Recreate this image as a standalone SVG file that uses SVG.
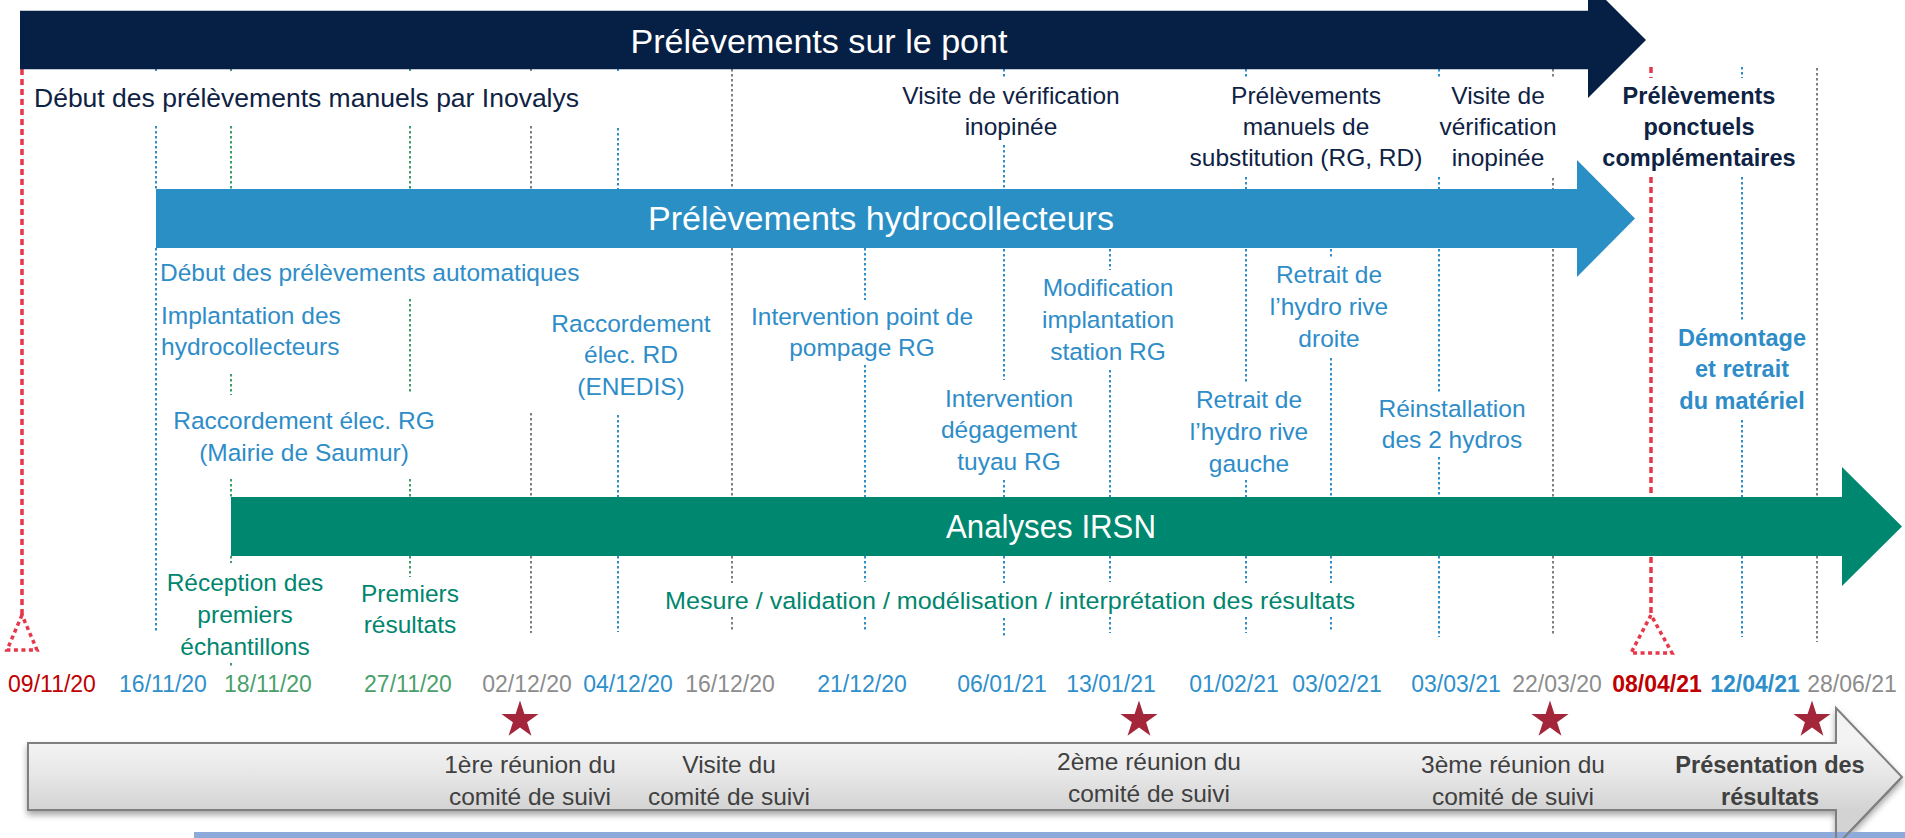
<svg xmlns="http://www.w3.org/2000/svg" xmlns:xlink="http://www.w3.org/1999/xlink" width="1905" height="838" viewBox="0 0 1905 838">
<style>
text{font-family:"Liberation Sans",Arial,sans-serif;}
.lbl{font-size:24.5px}
.big{font-size:34px;fill:#ffffff;text-anchor:middle}
.date{font-size:23px;text-anchor:middle}
.mid{text-anchor:middle}
.b{font-weight:bold}
.navy{fill:#0E2244}
.blue{fill:#2E8DC8}
.green{fill:#00866E}
.dg{fill:#404040}
.cr{fill:#C00000}
.cb{fill:#2E8FCB}
.cg{fill:#4A9F6A}
.cgr{fill:#8C8C8C}
.dl{fill:none;stroke-width:2;stroke-dasharray:2.5 2.5}
.lb{stroke:#2E8FCB}
.lg{stroke:#3AA066}
.lgr{stroke:#7F7F7F}
.red{fill:none;stroke:#E8374A;stroke-width:3.5;stroke-dasharray:6 4}
.redt{fill:none;stroke:#E8374A;stroke-width:3.5;stroke-dasharray:4 3.5}
.star{fill:#A3263A}
</style>
<defs>
<linearGradient id="gg" x1="0" y1="743" x2="0" y2="810" gradientUnits="userSpaceOnUse">
<stop offset="0" stop-color="#F3F3F3"/>
<stop offset="0.5" stop-color="#E6E6E6"/>
<stop offset="1" stop-color="#D3D3D3"/>
</linearGradient>
<filter id="sh" x="-5%" y="-20%" width="110%" height="150%">
<feDropShadow dx="0" dy="4" stdDeviation="3" flood-color="#000000" flood-opacity="0.35"/>
</filter>
<path id="star" d="M0,-19.5 L4.38,-6.03 L18.55,-6.03 L7.09,2.3 L11.46,15.78 L0,7.45 L-11.46,15.78 L-7.09,2.3 L-18.55,-6.03 L-4.38,-6.03Z"/>
</defs>
<rect width="1905" height="838" fill="#ffffff"/>

<g id="connectors">
<path class="red" d="M22,69V615"/>
<path class="redt" d="M22,615L7,650H37Z"/>
<path class="dl lb" d="M156,69V71M156,126V189M156,248V632"/>
<path class="dl lg" d="M231,69V71M231,126V189M231,374V395M231,479V497M231,556V563M231,663V667"/>
<path class="dl lg" d="M410,69V71M410,126V189M410,299V393M410,479V497M410,556V577"/>
<path class="dl lgr" d="M531,69V71M531,126V189M531,413V497M531,556V633"/>
<path class="dl lb" d="M618,69V71M618,128V189M618,415V497M618,556V632"/>
<path class="dl lgr" d="M732,69V189M732,248V497M732,556V583M732,617V632"/>
<path class="dl lb" d="M865,248V300M865,365V497M865,556V582M865,617V632"/>
<path class="dl lb" d="M1004,69V78M1004,145V189M1004,249V380M1004,480V497M1004,556V583M1004,618V637"/>
<path class="dl lb" d="M1110,249V270M1110,370V497M1110,556V582M1110,617V633"/>
<path class="dl lb" d="M1246,69V77M1246,177V189M1246,249V382M1246,480V497M1246,556V583M1246,617V633"/>
<path class="dl lb" d="M1331,249V258M1331,358V497M1331,556V583M1331,617V632"/>
<path class="dl lb" d="M1439,69V78M1439,177V189M1439,249V392M1439,457V497M1439,556V637"/>
<path class="dl lgr" d="M1553,69V78M1553,178V189M1553,249V497M1553,556V635"/>
<path class="red" d="M1651,67V78M1651,177V615"/>
<path class="redt" d="M1651,615L1631,653H1672Z"/>
<path class="dl lb" d="M1742,67V78M1742,177V320M1742,420V497M1742,556V637"/>
<path class="dl lgr" d="M1817,68V497M1817,556V642"/>
</g>

<g id="band-pont">
<path d="M20,10.7H1588V-18L1646,40L1588,98V69.3H20Z" fill="#061F44"/>
<text class="big" x="819" y="53" textLength="377" lengthAdjust="spacingAndGlyphs">Prélèvements sur le pont</text>
</g>

<g id="band-hydro">
<path d="M156,189H1577V160L1635,218.5L1577,277V248H156Z" fill="#2A8FC4"/>
<text class="big" x="881" y="230" textLength="466" lengthAdjust="spacingAndGlyphs">Prélèvements hydrocollecteurs</text>
</g>

<g id="band-irsn">
<path d="M231,497H1842V467L1902,526.5L1842,586V556H231Z" fill="#00876F"/>
<text class="big" x="1051" y="538" textLength="210" lengthAdjust="spacingAndGlyphs">Analyses IRSN</text>
</g>

<g id="band-comite">
<path d="M28,743H1836V708L1902,777L1836,846V810H28Z" fill="url(#gg)" stroke="#7F7F7F" stroke-width="2" filter="url(#sh)"/>
</g>
<rect id="bottom-bar" x="194" y="832" width="1711" height="6" fill="#8EAADB"/>
<path d="M1836,810V846L1902,777" fill="none" stroke="#7F7F7F" stroke-width="2"/>

<g id="label-inovalys"><text class="navy" x="34" y="107" style="font-size:26.5px">Début des prélèvements manuels par Inovalys</text></g>
<g id="label-visite1"><text class="navy lbl mid"><tspan x="1011" y="104">Visite de vérification</tspan><tspan x="1011" y="135">inopinée</tspan></text></g>
<g id="label-substitution"><text class="navy lbl mid"><tspan x="1306" y="104">Prélèvements</tspan><tspan x="1306" y="135">manuels de</tspan><tspan x="1306" y="166">substitution (RG, RD)</tspan></text></g>
<g id="label-visite2"><text class="navy lbl mid"><tspan x="1498" y="104">Visite de</tspan><tspan x="1498" y="135">vérification</tspan><tspan x="1498" y="166">inopinée</tspan></text></g>
<g id="label-ponctuels"><text class="navy lbl mid b" style="font-size:23.5px"><tspan x="1699" y="104">Prélèvements</tspan><tspan x="1699" y="135">ponctuels</tspan><tspan x="1699" y="166">complémentaires</tspan></text></g>

<g id="label-auto"><text class="blue lbl" x="160" y="281">Début des prélèvements automatiques</text></g>
<g id="label-implantation"><text class="blue lbl"><tspan x="161" y="324">Implantation des</tspan><tspan x="161" y="355">hydrocollecteurs</tspan></text></g>
<g id="label-raccRG"><text class="blue lbl mid"><tspan x="304" y="429">Raccordement élec. RG</tspan><tspan x="304" y="461">(Mairie de Saumur)</tspan></text></g>
<g id="label-raccRD"><text class="blue lbl mid"><tspan x="631" y="332">Raccordement</tspan><tspan x="631" y="363">élec. RD</tspan><tspan x="631" y="395">(ENEDIS)</tspan></text></g>
<g id="label-pompage"><text class="blue lbl mid"><tspan x="862" y="325">Intervention point de</tspan><tspan x="862" y="356">pompage RG</tspan></text></g>
<g id="label-tuyau"><text class="blue lbl mid"><tspan x="1009" y="407">Intervention</tspan><tspan x="1009" y="438">dégagement</tspan><tspan x="1009" y="470">tuyau RG</tspan></text></g>
<g id="label-modif"><text class="blue lbl mid"><tspan x="1108" y="296">Modification</tspan><tspan x="1108" y="328">implantation</tspan><tspan x="1108" y="360">station RG</tspan></text></g>
<g id="label-retraitRD"><text class="blue lbl mid"><tspan x="1329" y="283">Retrait de</tspan><tspan x="1329" y="315">l’hydro rive</tspan><tspan x="1329" y="347">droite</tspan></text></g>
<g id="label-retraitRG"><text class="blue lbl mid"><tspan x="1249" y="408">Retrait de</tspan><tspan x="1249" y="440">l’hydro rive</tspan><tspan x="1249" y="472">gauche</tspan></text></g>
<g id="label-reinstall"><text class="blue lbl mid"><tspan x="1452" y="417">Réinstallation</tspan><tspan x="1452" y="448">des 2 hydros</tspan></text></g>
<g id="label-demontage"><text class="blue lbl mid b" style="font-size:23.5px"><tspan x="1742" y="346">Démontage</tspan><tspan x="1742" y="377">et retrait</tspan><tspan x="1742" y="409">du matériel</tspan></text></g>

<g id="label-reception"><text class="green lbl mid"><tspan x="245" y="591">Réception des</tspan><tspan x="245" y="623">premiers</tspan><tspan x="245" y="655">échantillons</tspan></text></g>
<g id="label-premiers"><text class="green lbl mid"><tspan x="410" y="602">Premiers</tspan><tspan x="410" y="633">résultats</tspan></text></g>
<g id="label-mesure"><text class="green lbl mid" x="1010" y="609" textLength="690" lengthAdjust="spacingAndGlyphs">Mesure / validation / modélisation / interprétation des résultats</text></g>

<g id="dates">
<text class="date cr" x="52" y="692">09/11/20</text>
<text class="date cb" x="163" y="692">16/11/20</text>
<text class="date cg" x="268" y="692">18/11/20</text>
<text class="date cg" x="408" y="692">27/11/20</text>
<text class="date cgr" x="527" y="692">02/12/20</text>
<text class="date cb" x="628" y="692">04/12/20</text>
<text class="date cgr" x="730" y="692">16/12/20</text>
<text class="date cb" x="862" y="692">21/12/20</text>
<text class="date cb" x="1002" y="692">06/01/21</text>
<text class="date cb" x="1111" y="692">13/01/21</text>
<text class="date cb" x="1234" y="692">01/02/21</text>
<text class="date cb" x="1337" y="692">03/02/21</text>
<text class="date cb" x="1456" y="692">03/03/21</text>
<text class="date cgr" x="1557" y="692">22/03/20</text>
<text class="date cr b" x="1657" y="692">08/04/21</text>
<text class="date cb b" x="1755" y="692">12/04/21</text>
<text class="date cgr" x="1852" y="692">28/06/21</text>
</g>

<g id="stars">
<use xlink:href="#star" href="#star" class="star" x="520" y="720"/>
<use xlink:href="#star" href="#star" class="star" x="1139" y="720"/>
<use xlink:href="#star" href="#star" class="star" x="1550" y="720"/>
<use xlink:href="#star" href="#star" class="star" x="1812" y="720"/>
</g>

<g id="label-reunion1"><text class="dg lbl mid"><tspan x="530" y="773">1ère réunion du</tspan><tspan x="530" y="805">comité de suivi</tspan></text></g>
<g id="label-visite-comite"><text class="dg lbl mid"><tspan x="729" y="773">Visite du</tspan><tspan x="729" y="805">comité de suivi</tspan></text></g>
<g id="label-reunion2"><text class="dg lbl mid"><tspan x="1149" y="770">2ème réunion du</tspan><tspan x="1149" y="802">comité de suivi</tspan></text></g>
<g id="label-reunion3"><text class="dg lbl mid"><tspan x="1513" y="773">3ème réunion du</tspan><tspan x="1513" y="805">comité de suivi</tspan></text></g>
<g id="label-presentation"><text class="dg lbl mid b" style="font-size:23.5px"><tspan x="1770" y="773">Présentation des</tspan><tspan x="1770" y="805">résultats</tspan></text></g>
</svg>
